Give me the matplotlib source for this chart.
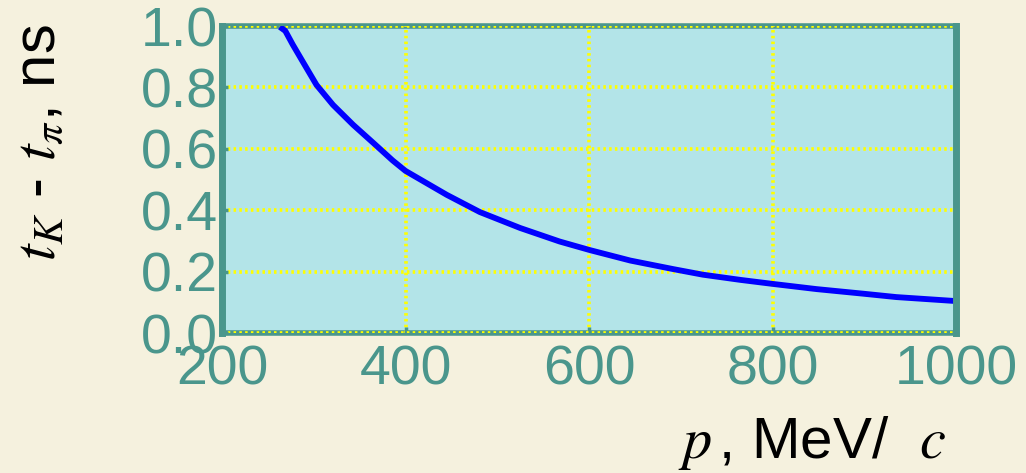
import numpy as np
import matplotlib
matplotlib.use("Agg")
import matplotlib.pyplot as plt

# curve: momentum (MeV/c) vs t_K - t_pi (ns)
momentum = [263, 269, 277, 288, 303, 321, 343, 365, 386, 400, 445, 481,
            525, 568, 601, 645, 692, 724, 765, 800, 848, 899, 935, 1000]
dt_ns = [0.997, 0.984, 0.94, 0.884, 0.808, 0.743, 0.678, 0.619, 0.562,
         0.528, 0.450, 0.394, 0.342, 0.298, 0.270, 0.236, 0.208, 0.190,
         0.173, 0.160, 0.143, 0.128, 0.117, 0.104]

xticks = [200, 400, 600, 800, 1000]
yticks = [0.0, 0.2, 0.4, 0.6, 0.8, 1.0]

teal = "#4a968c"
plt.rcParams["font.family"] = ["Liberation Sans", "DejaVu Sans"]
plt.rcParams["mathtext.fontset"] = "stix"

fig = plt.figure(figsize=(10.26, 4.73), dpi=100, facecolor="#f5f1de")
ax = fig.add_axes([222 / 1026, 1 - 333 / 473, 734 / 1026, 307 / 473])
ax.set_facecolor("#b3e4e8")

ax.plot(momentum, dt_ns, color="#0000ff", lw=4.2, zorder=3,
        solid_joinstyle="round", solid_capstyle="butt")

ax.set_xlim(200, 1000)
ax.set_ylim(0, 1)
ax.set_xticks(xticks)
ax.set_yticks(yticks)
ax.set_xticklabels([str(v) for v in xticks])
ax.set_yticklabels(["%.1f" % v for v in yticks])
ax.grid(True, color="#ffff00", ls=(0, (0.7, 0.9)), lw=2.6,
        dash_capstyle="butt")

for side in ["left", "right"]:
    ax.spines[side].set_color(teal)
    ax.spines[side].set_linewidth(5)
    ax.spines[side].set_zorder(4)
for side in ["top", "bottom"]:
    ax.spines[side].set_color(teal)
    ax.spines[side].set_linewidth(4)
    ax.spines[side].set_zorder(1)

ax.tick_params(direction="in", length=4, width=2.5, color=teal,
               labelcolor=teal, labelsize=40)
ax.tick_params(axis="x", pad=8)
ax.tick_params(axis="y", pad=3)

fig.text(947 / 1026, 1 - 458 / 473, r"$p\,$, MeV/  $c$", fontsize=42,
         ha="right", va="baseline", color="black")
fig.text(0.012, 1 - 24 / 473, r"$t_K$ - $t_\pi$, ns", fontsize=43,
         rotation=90, ha="left", va="top", color="black")

fig.savefig("out.png", dpi=100, facecolor=fig.get_facecolor())
